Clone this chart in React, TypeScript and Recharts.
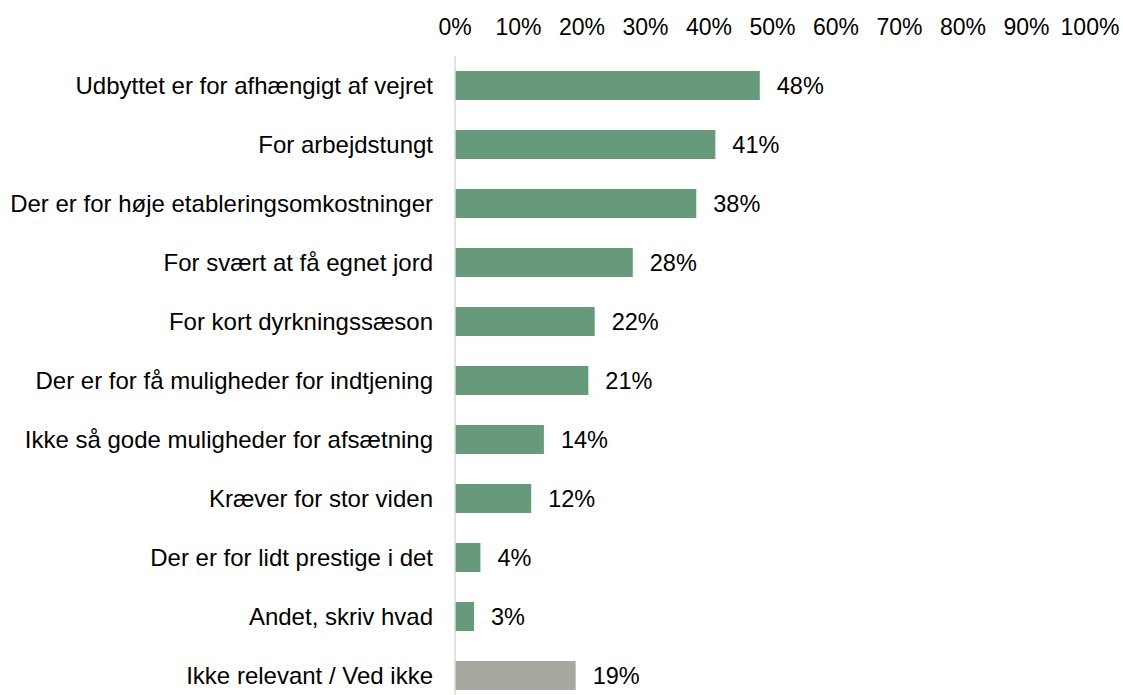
import { Bar, BarChart, Cell, LabelList, XAxis, YAxis } from 'recharts'

const categories = [
  'Udbyttet er for afhængigt af vejret',
  'For arbejdstungt',
  'Der er for høje etableringsomkostninger',
  'For svært at få egnet jord',
  'For kort dyrkningssæson',
  'Der er for få muligheder for indtjening',
  'Ikke så gode muligheder for afsætning',
  'Kræver for stor viden',
  'Der er for lidt prestige i det',
  'Andet, skriv hvad',
  'Ikke relevant / Ved ikke',
]

const values = [48, 41, 38, 28, 22, 21, 14, 12, 4, 3, 19]

const xTicks = [0, 10, 20, 30, 40, 50, 60, 70, 80, 90, 100]

const GREEN = '#669a7b'
const GREY = '#a8a99e'
const FONT = '"Liberation Sans", Arial, sans-serif'

const data = categories.map((name, i) => ({ name, pct: values[i] }))

function XTick(props: any) {
  const { x, payload } = props
  return (
    <text x={x} y={35} textAnchor="middle" fontSize={23} fontFamily={FONT} fill="#000">
      {`${payload.value}%`}
    </text>
  )
}

function YTick(props: any) {
  const { x, y, payload } = props
  return (
    <text
      x={x - 14}
      y={y}
      textAnchor="end"
      dominantBaseline="central"
      fontSize={24}
      fontFamily={FONT}
      fill="#000"
    >
      {payload.value}
    </text>
  )
}

function ValueLabel(props: any) {
  const { x, y, width, height, value } = props
  return (
    <text
      x={Number(x) + Number(width) + 17}
      y={Number(y) + Number(height) / 2}
      dominantBaseline="central"
      fontSize={23.5}
      fontFamily={FONT}
      fill="#000"
    >
      {`${value}%`}
    </text>
  )
}

export default function App() {
  return (
    <div
      style={{
        position: 'fixed',
        left: 0,
        top: 0,
        width: 1123,
        height: 695,
        overflow: 'hidden',
        background: '#fff',
      }}
    >
      <BarChart
        width={1123}
        height={710}
        data={data}
        layout="vertical"
        margin={{ top: 0, right: 33, bottom: 5, left: 0 }}
      >
        <XAxis
          type="number"
          orientation="top"
          domain={[0, 100]}
          ticks={xTicks}
          height={56}
          axisLine={false}
          tickLine={false}
          tick={XTick}
          interval={0}
        />
        <YAxis
          type="category"
          dataKey="name"
          width={455}
          axisLine={{ stroke: '#d9d9d9', strokeWidth: 1.5 }}
          tickLine={false}
          tick={YTick}
          interval={0}
        />
        <Bar dataKey="pct" fill={GREEN} barSize={29} isAnimationActive={false}>
          {data.map((d, i) => (
            <Cell key={d.name} fill={i === data.length - 1 ? GREY : GREEN} />
          ))}
          <LabelList dataKey="pct" content={ValueLabel} />
        </Bar>
      </BarChart>
    </div>
  )
}
